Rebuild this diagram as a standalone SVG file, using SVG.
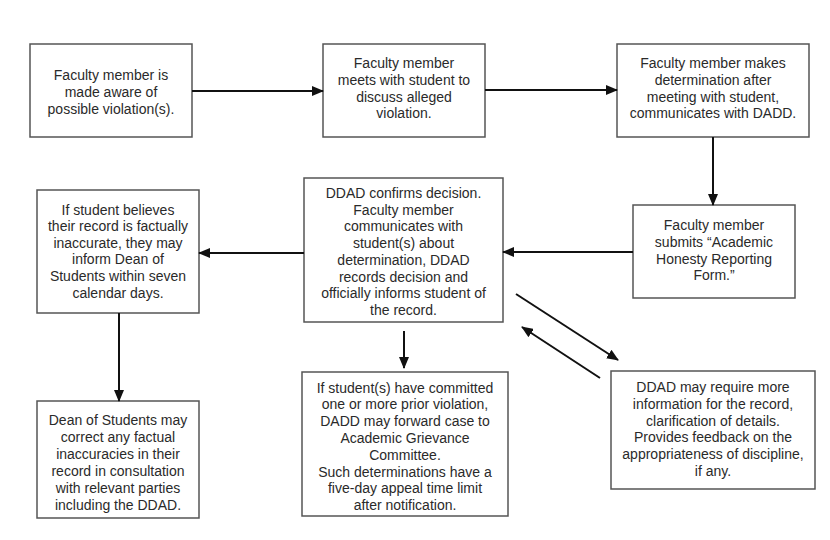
<svg xmlns="http://www.w3.org/2000/svg" width="830" height="540" viewBox="0 0 830 540">
<defs>
<marker id="ah" markerUnits="userSpaceOnUse" markerWidth="12" markerHeight="10" refX="11" refY="5" orient="auto">
<path d="M0,0 L12,5 L0,10 Z" fill="#111"/>
</marker>
<style>
.box{fill:#fff;stroke:#555;stroke-width:1.5}
.t{font-family:"Liberation Sans",Arial,sans-serif;font-size:14px;fill:#2a2a2a;text-anchor:middle}
.c{stroke:#111;stroke-width:2;fill:none;marker-end:url(#ah)}
</style>
</defs>
<rect width="830" height="540" fill="#fff"/>
<g id="n1"><rect class="box" x="30" y="44" width="162" height="93"/>
<text class="t" x="111" y="80"><tspan x="111">Faculty member is</tspan><tspan x="111" dy="16.8">made aware of</tspan><tspan x="111" dy="16.8">possible violation(s).</tspan></text></g>
<g id="n2"><rect class="box" x="323" y="44" width="162" height="93"/>
<text class="t" x="404" y="68"><tspan x="404">Faculty member</tspan><tspan x="404" dy="16.8">meets with student to</tspan><tspan x="404" dy="16.8">discuss alleged</tspan><tspan x="404" dy="16.8">violation.</tspan></text></g>
<g id="n3"><rect class="box" x="617" y="44" width="192" height="93"/>
<text class="t" x="713" y="68"><tspan x="713">Faculty member makes</tspan><tspan x="713" dy="16.8">determination after</tspan><tspan x="713" dy="16.8">meeting with student,</tspan><tspan x="713" dy="16.8">communicates with DADD.</tspan></text></g>
<g id="n4"><rect class="box" x="633" y="205" width="162" height="93"/>
<text class="t" x="714" y="230"><tspan x="714">Faculty member</tspan><tspan x="714" dy="16.8">submits “Academic</tspan><tspan x="714" dy="16.8">Honesty Reporting</tspan><tspan x="714" dy="16.8">Form.”</tspan></text></g>
<g id="n5"><rect class="box" x="304" y="178" width="199" height="144"/>
<text class="t" x="403.5" y="198"><tspan x="403.5">DDAD confirms decision.</tspan><tspan x="403.5" dy="16.7">Faculty member</tspan><tspan x="403.5" dy="16.7">communicates with</tspan><tspan x="403.5" dy="16.7">student(s) about</tspan><tspan x="403.5" dy="16.7">determination, DDAD</tspan><tspan x="403.5" dy="16.7">records decision and</tspan><tspan x="403.5" dy="16.7">officially informs student of</tspan><tspan x="403.5" dy="16.7">the record.</tspan></text></g>
<g id="n6"><rect class="box" x="37" y="190" width="162" height="123"/>
<text class="t" x="118" y="214.5"><tspan x="118">If student believes</tspan><tspan x="118" dy="16.6">their record is factually</tspan><tspan x="118" dy="16.6">inaccurate, they may</tspan><tspan x="118" dy="16.6">inform Dean of</tspan><tspan x="118" dy="16.6">Students within seven</tspan><tspan x="118" dy="16.6">calendar days.</tspan></text></g>
<g id="n7"><rect class="box" x="37" y="401" width="162" height="117"/>
<text class="t" x="118" y="424.5"><tspan x="118">Dean of Students may</tspan><tspan x="118" dy="17">correct any factual</tspan><tspan x="118" dy="17">inaccuracies in their</tspan><tspan x="118" dy="17">record in consultation</tspan><tspan x="118" dy="17">with relevant parties</tspan><tspan x="118" dy="17">including the DDAD.</tspan></text></g>
<g id="n8"><rect class="box" x="302" y="372" width="206" height="144"/>
<text class="t" x="405" y="392.5"><tspan x="405">If student(s) have committed</tspan><tspan x="405" dy="16.8">one or more prior violation,</tspan><tspan x="405" dy="16.8">DADD may forward case to</tspan><tspan x="405" dy="16.8">Academic Grievance</tspan><tspan x="405" dy="16.8">Committee.</tspan><tspan x="405" dy="16.8">Such determinations have a</tspan><tspan x="405" dy="16.8">five-day appeal time limit</tspan><tspan x="405" dy="16.8">after notification.</tspan></text></g>
<g id="n9"><rect class="box" x="611" y="371" width="204" height="118"/>
<text class="t" x="713" y="392"><tspan x="713">DDAD may require more</tspan><tspan x="713" dy="16.8">information for the record,</tspan><tspan x="713" dy="16.8">clarification of details.</tspan><tspan x="713" dy="16.8">Provides feedback on the</tspan><tspan x="713" dy="16.8">appropriateness of discipline,</tspan><tspan x="713" dy="16.8">if any.</tspan></text></g>
<g id="connectors">
<line class="c" x1="192" y1="91" x2="323" y2="91"/>
<line class="c" x1="485" y1="90" x2="617" y2="90"/>
<line class="c" x1="713" y1="137" x2="713" y2="205"/>
<line class="c" x1="633" y1="252" x2="503" y2="252"/>
<line class="c" x1="304" y1="253" x2="199" y2="253"/>
<line class="c" x1="119" y1="313" x2="119" y2="401"/>
<line class="c" x1="404" y1="331" x2="404" y2="368"/>
<line class="c" x1="516" y1="294" x2="618" y2="360"/>
<line class="c" x1="600" y1="378" x2="522" y2="327"/>
</g>
</svg>
